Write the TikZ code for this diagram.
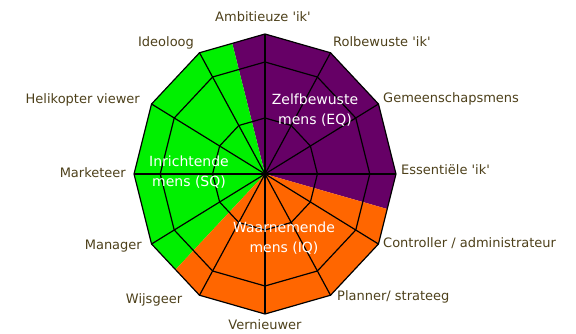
\documentclass[tikz,border=0pt]{standalone}
\usepackage{fontspec}
\setmainfont{DejaVu Sans}
\definecolor{eqpurple}{RGB}{102,0,102}
\definecolor{sqgreen}{RGB}{0,240,0}
\definecolor{iqorange}{RGB}{255,102,0}
\definecolor{lbltext}{RGB}{77,64,26}
\tikzset{
  lbl/.style={text=lbltext, font=\fontsize{13}{15}\selectfont, inner sep=0pt, text height=9.5pt, text depth=2.7pt},
  mens/.style={text=white, align=center, font=\fontsize{14}{20}\selectfont, inner sep=0pt},
  web/.style={line width=1.2pt, line join=round}
}

\begin{document}
\begin{tikzpicture}[x=1pt, y=1pt]
  \useasboundingbox (0,0) rectangle (576,333);
  \coordinate (c) at (265,159);
  % outer, middle and inner ring points on the 12 spokes
  \foreach \i in {0,...,11} {
    \path (c) ++({131*cos(30*\i)},{140*sin(30*\i)}) coordinate (o\i);
    \path (c) ++({0.8*131*cos(30*\i)},{0.8*140*sin(30*\i)}) coordinate (m\i);
    \path (c) ++({0.4*131*cos(30*\i)},{0.4*140*sin(30*\i)}) coordinate (n\i);
  }
  % the three sectors
  \begin{scope}
    \clip (o0) \foreach \i in {1,...,11}{-- (o\i)} -- cycle;
    \foreach \a/\col in {-15/eqpurple, 105/sqgreen, 225/iqorange}
      \fill[\col] (c) -- +({262*cos(\a)},{280*sin(\a)})
        -- +({262*cos(\a+60)},{280*sin(\a+60)})
        -- +({262*cos(\a+120)},{280*sin(\a+120)}) -- cycle;
  \end{scope}
  % web
  \foreach \r in {o,m,n}
    \draw[web] (\r0) \foreach \i in {1,...,11}{-- (\r\i)} -- cycle;
  \foreach \i in {0,...,11}
    \draw[web] (c) -- (o\i);

  \node[lbl] (ambitieuze) at (263,315) {Ambitieuze \textquotesingle ik\textquotesingle};
  \node[lbl] (ideoloog) at (166,290) {Ideoloog};
  \node[lbl, anchor=west] (rolbewuste) at (333,290) {Rolbewuste \textquotesingle ik\textquotesingle};
  \node[lbl, anchor=east] (helikopter) at (140,233) {Helikopter viewer};
  \node[lbl, anchor=west] (gemeenschap) at (383,234) {Gemeenschapsmens};
  \node[lbl, anchor=east] (marketeer) at (126,159) {Marketeer};
  \node[lbl, anchor=west] (essentieel) at (401,162) {Essentiële \textquotesingle ik\textquotesingle};
  \node[lbl, anchor=east] (manager) at (142,87) {Manager};
  \node[lbl, anchor=west] (controller) at (383,89) {Controller / administrateur};
  \node[lbl] (wijsgeer) at (154,33) {Wijsgeer};
  \node[lbl, anchor=west] (planner) at (337,36) {Planner/ strateeg};
  \node[lbl] (vernieuwer) at (265,7) {Vernieuwer};

  \node[mens] (eq) at (315,223) {Zelfbewuste\\mens (EQ)};
  \node[mens] (sq) at (189,161) {Inrichtende\\mens (SQ)};
  \node[mens] (iq) at (284,95) {Waarnemende\\mens (IQ)};
\end{tikzpicture}
\end{document}
